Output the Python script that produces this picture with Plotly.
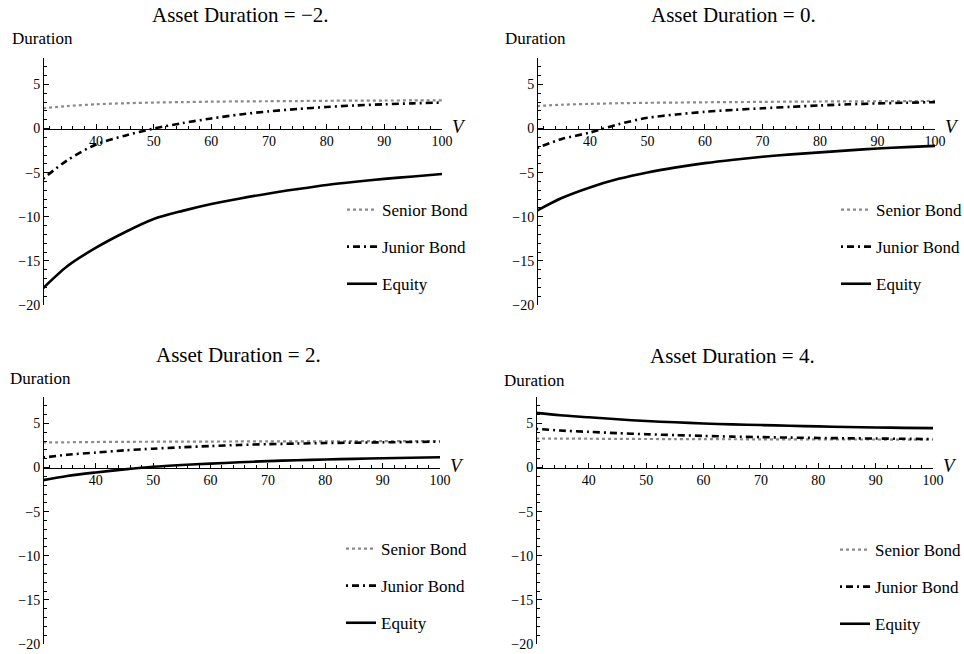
import plotly.graph_objects as go

# ---------------- data ----------------
V = [30.8, 35, 40, 45, 50, 55, 60, 65, 70, 75, 80, 85, 90, 95, 100]

asset_durations = ["\u22122.", "0.", "2.", "4."]

senior_m2 = [2.3, 2.55, 2.75, 2.87, 2.95, 3.0, 3.05, 3.08, 3.1, 3.12, 3.15, 3.17, 3.18, 3.19, 3.2]
junior_m2 = [-5.7, -3.6, -1.8, -0.8, 0.0, 0.62, 1.15, 1.6, 1.95, 2.22, 2.45, 2.62, 2.75, 2.86, 2.95]
equity_m2 = [-18.1, -15.6, -13.5, -11.75, -10.25, -9.33, -8.55, -7.92, -7.35, -6.86, -6.4, -6.03, -5.7, -5.43, -5.15]

senior_0 = [2.55, 2.7, 2.8, 2.87, 2.92, 2.95, 2.98, 3.0, 3.03, 3.05, 3.07, 3.09, 3.1, 3.12, 3.13]
junior_0 = [-2.2, -1.2, -0.45, 0.5, 1.22, 1.6, 1.9, 2.12, 2.3, 2.47, 2.62, 2.75, 2.85, 2.93, 3.0]
equity_0 = [-9.3, -7.9, -6.67, -5.7, -4.97, -4.4, -3.92, -3.53, -3.2, -2.93, -2.7, -2.47, -2.26, -2.1, -1.96]

senior_2 = [2.85, 2.87, 2.9, 2.92, 2.93, 2.94, 2.95, 2.96, 2.97, 2.975, 2.98, 2.99, 3.0, 3.0, 3.0]
junior_2 = [1.13, 1.45, 1.7, 1.95, 2.14, 2.3, 2.44, 2.56, 2.65, 2.72, 2.78, 2.82, 2.86, 2.9, 2.93]
equity_2 = [-1.43, -0.95, -0.55, -0.2, 0.1, 0.3, 0.45, 0.6, 0.73, 0.83, 0.92, 0.99, 1.05, 1.11, 1.17]

senior_4 = [3.3, 3.28, 3.27, 3.25, 3.24, 3.23, 3.22, 3.21, 3.2, 3.195, 3.19, 3.185, 3.18, 3.175, 3.17]
junior_4 = [4.4, 4.2, 4.05, 3.9, 3.78, 3.68, 3.59, 3.51, 3.45, 3.4, 3.36, 3.32, 3.29, 3.26, 3.24]
equity_4 = [6.2, 5.93, 5.7, 5.47, 5.28, 5.13, 5.0, 4.9, 4.82, 4.74, 4.67, 4.6, 4.55, 4.5, 4.47]

series_names = ["Senior Bond", "Junior Bond", "Equity"]
panels = [
    (senior_m2, junior_m2, equity_m2),
    (senior_0, junior_0, equity_0),
    (senior_2, junior_2, equity_2),
    (senior_4, junior_4, equity_4),
]

x_range = [30.8, 100]
y_range = [-20, 8]
x_ticks = [40, 50, 60, 70, 80, 90, 100]
y_ticks = [-20, -15, -10, -5, 0, 5]

# ---------------- layout geometry (pixels) ----------------
W, H = 964, 654
SERIF = "Liberation Serif, Times New Roman, serif"

# (x0, x1, ytop, ybottom) in pixels for each panel
boxes = [
    (43, 442, 58, 305),
    (537, 935, 58, 305),
    (43, 440, 397, 644),
    (536, 933, 397, 644),
]
title_pos = [(240, 15), (733, 15), (238, 355), (732, 356)]
ylabel_pos = [(10, 38), (503, 38), (8, 378), (502, 380)]
legend_pos = [(342, 192), (836, 192), (341, 531), (835, 532)]

styles = [
    dict(color="#8a8a8a", width=2.2, dash="dot"),
    dict(color="black", width=2.6, dash="2px,4px,7px,4px"),
    dict(color="black", width=2.6, dash="solid"),
]

fig = go.Figure()
annotations = []
layout = dict()

for i, (series, box) in enumerate(zip(panels, boxes)):
    n = "" if i == 0 else str(i + 1)
    x0, x1, yt, yb = box
    xd = [x0 / W, x1 / W]
    yd = [1 - yb / H, 1 - yt / H]
    zero_frac = yd[0] + (0 - y_range[0]) / (y_range[1] - y_range[0]) * (yd[1] - yd[0])
    legname = "legend" + n

    for k, (name, vals) in enumerate(zip(series_names, series)):
        fig.add_trace(go.Scatter(
            x=V, y=vals, mode="lines", name=name,
            line=dict(shape="spline", smoothing=0.8, **styles[k]),
            xaxis="x" + n, yaxis="y" + n,
            legend=legname, legendgroup=f"g{i}{k}",
            showlegend=True,
        ))

    layout["xaxis" + n] = dict(
        domain=xd, range=x_range, anchor="free", position=zero_frac,
        showline=True, linecolor="black", linewidth=1,
        ticks="inside", ticklen=5, tickcolor="black", tickvals=x_ticks,
        minor=dict(ticks="inside", dtick=2, tick0=0, ticklen=3, tickcolor="black"),
        showgrid=False, zeroline=False,
        tickfont=dict(family=SERIF, size=14, color="black"),
    )
    layout["yaxis" + n] = dict(
        domain=yd, range=y_range, anchor="free", position=xd[0],
        showline=True, linecolor="black", linewidth=1,
        ticks="inside", ticklen=5, tickcolor="black", tickvals=y_ticks,
        minor=dict(ticks="inside", dtick=1, tick0=0, ticklen=3, tickcolor="black"),
        showgrid=False, zeroline=False,
        tickfont=dict(family=SERIF, size=14, color="black"),
    )
    lx, ly = legend_pos[i]
    layout[legname] = dict(
        x=lx / W, y=1 - ly / H, xanchor="left", yanchor="top",
        bgcolor="rgba(0,0,0,0)", tracegroupgap=12,
        font=dict(family=SERIF, size=17, color="black"),
        itemwidth=30,
    )

    tx, ty = title_pos[i]
    annotations.append(dict(
        text="Asset Duration = " + asset_durations[i],
        x=tx / W, y=1 - ty / H, xref="paper", yref="paper",
        xanchor="center", yanchor="middle", showarrow=False,
        font=dict(family=SERIF, size=21, color="black"),
    ))
    dx, dy = ylabel_pos[i]
    annotations.append(dict(
        text="Duration", x=dx / W, y=1 - dy / H, xref="paper", yref="paper",
        xanchor="left", yanchor="middle", showarrow=False,
        font=dict(family=SERIF, size=17, color="black"),
    ))
    annotations.append(dict(
        text="<i>V</i>", x=x_range[1], y=0, xref="x" + n, yref="y" + n,
        xanchor="left", yanchor="middle", xshift=8, yshift=2, showarrow=False,
        font=dict(family=SERIF, size=19, color="black"),
    ))

fig.update_layout(
    width=W, height=H,
    margin=dict(l=0, r=0, t=0, b=0, autoexpand=False),
    paper_bgcolor="white", plot_bgcolor="white",
    annotations=annotations,
    hovermode=False,
    **layout,
)

fig.write_html(
    "out.html",
    config={"displayModeBar": False},
    post_script="document.body.style.margin='0px';",
)
